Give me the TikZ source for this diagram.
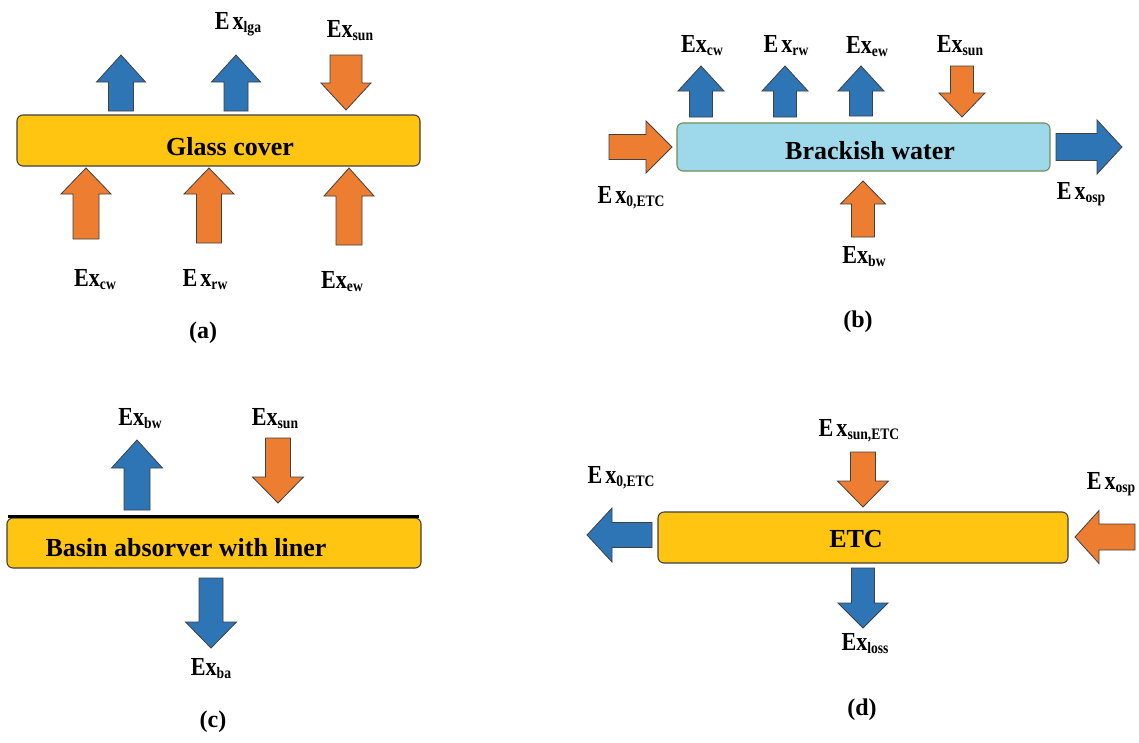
\documentclass[tikz,border=0pt]{standalone}
\usepackage{fontspec}
\setmainfont{Liberation Serif}
\newfontfamily\labfont{Liberation Serif}[FakeStretch=0.85]
\definecolor{myorange}{HTML}{ED7D31}
\definecolor{myblue}{HTML}{2E75B6}
\definecolor{mygold}{HTML}{FFC510}
\definecolor{mylblue}{HTML}{9DD9EA}
\definecolor{myedge}{HTML}{404040}
\definecolor{mygreen}{HTML}{6F8F55}
\newcommand\exl[2][]{{\labfont\bfseries\fontsize{26}{26}\selectfont E#1x\raisebox{-3pt}{\fontsize{16}{16}\selectfont #2}}}
% vertical block arrow: style, cx, tip, headbase, tail, headhalf, shafthalf
\newcommand\vblk[7]{\draw[#1] ({#2-#7},#5) -- ({#2-#7},#4) -- ({#2-#6},#4) -- (#2,#3) -- ({#2+#6},#4) -- ({#2+#7},#4) -- ({#2+#7},#5) -- cycle;}
% horizontal block arrow: style, cy, tip, headbase, tail, headhalf, shafthalf
\newcommand\hblk[7]{\draw[#1] (#5,{#2-#7}) -- (#4,{#2-#7}) -- (#4,{#2-#6}) -- (#3,#2) -- (#4,{#2+#6}) -- (#4,{#2+#7}) -- (#5,{#2+#7}) -- cycle;}
\begin{document}
\begin{tikzpicture}[x=1pt,y=-1pt,
  oarr/.style={fill=myorange, draw=myedge, line width=0.8pt, line join=miter},
  barr/.style={fill=myblue, draw=myedge, line width=0.8pt, line join=miter},
  boxbase/.style={draw=myedge, rounded corners=6pt, line width=1.1pt, inner sep=0pt},
  goldbox/.style={boxbase, fill=mygold},
  waterbox/.style={boxbase, fill=mylblue, draw=mygreen},
  boxtext/.style={anchor=base, inner sep=0pt, font=\bfseries\fontsize{26}{26}\selectfont},
  lab/.style={anchor=base, inner sep=0pt},
  captext/.style={inner sep=0pt, font=\bfseries\fontsize{24}{24}\selectfont}]
\useasboundingbox (0,0) rectangle (1139,742);
\fill[white] (0,0) rectangle (1139,742);

% ---------------- (a) ----------------
\node[goldbox, minimum width=403pt, minimum height=51pt] (gc) at (218.5,140.5) {};
\node[boxtext] (gct) at (230,155) {Glass cover};
\vblk{barr}{121}{55}{82}{111}{24.5}{12.5}
\vblk{barr}{236}{55}{82}{111}{24.5}{12}
\vblk{oarr}{346}{110}{83}{55}{25}{16}
\vblk{oarr}{86}{168}{194}{239}{25}{13}
\vblk{oarr}{209}{168}{194}{243}{25}{12.5}
\vblk{oarr}{349}{168}{196}{245}{25}{13}
\node[lab] (a1) at (238,29) {\exl[\kern3pt]{lga}};
\node[lab] (a2) at (350,37) {\exl{sun}};
\node[lab] (a3) at (95,286) {\exl{cw}};
\node[lab] (a4) at (205,286) {\exl[\kern3pt]{rw}};
\node[lab] (a5) at (342,288) {\exl{ew}};
\node[captext] (capa) at (203,333) {(a)};

% ---------------- (b) ----------------
\node[waterbox, minimum width=373pt, minimum height=48pt] (bw) at (863.5,147) {};
\node[boxtext] (bwt) at (870,159) {Brackish water};
\vblk{barr}{701}{66}{91}{117}{23}{11.5}
\vblk{barr}{785}{66}{91}{117}{23}{11.5}
\vblk{barr}{861}{66}{91}{116}{23}{11.5}
\vblk{oarr}{962}{117}{93}{66}{23}{11.5}
\vblk{oarr}{863}{181}{204}{237}{22.5}{11.5}
\hblk{oarr}{147}{672}{646}{609}{26}{12.5}
\hblk{barr}{147}{1122}{1097}{1056}{27}{13.5}
\node[lab] (b1) at (702,52) {\exl{cw}};
\node[lab] (b2) at (786,52) {\exl[\kern3pt]{rw}};
\node[lab] (b3) at (867,53) {\exl{ew}};
\node[lab] (b4) at (960,52) {\exl{sun}};
\node[lab] (b5) at (631,203) {\exl[\kern3pt]{0,ETC}};
\node[lab] (b6) at (864,263) {\exl{bw}};
\node[lab] (b7) at (1081,199) {\exl[\kern3pt]{osp}};
\node[captext] (capb) at (858,322) {(b)};

% ---------------- (c) ----------------
\node[goldbox, minimum width=414pt, minimum height=50pt] (ba) at (214,543) {};
\draw[line width=3pt] (8,516) -- (419,516);
\node[boxtext] (bat) at (186,556) {Basin absorver with liner};
\vblk{barr}{137}{440}{468}{510}{25.5}{13}
\vblk{oarr}{278}{503}{477}{438}{25.5}{12.5}
\vblk{barr}{211}{648}{622}{578}{25.5}{12}
\node[lab] (c1) at (140,425) {\exl{bw}};
\node[lab] (c2) at (275,425) {\exl{sun}};
\node[lab] (c3) at (211,675) {\exl{ba}};
\node[captext] (capc) at (213,722) {(c)};

% ---------------- (d) ----------------
\node[goldbox, minimum width=410pt, minimum height=51pt] (etc) at (863,537.5) {};
\node[boxtext] (etct) at (856,547) {ETC};
\vblk{oarr}{863}{507}{481}{452}{25.5}{12.5}
\vblk{barr}{863}{628}{603}{568}{25}{11.5}
\hblk{barr}{535}{587}{612}{652}{27}{12.5}
\hblk{oarr}{537}{1075}{1099}{1135}{26.5}{13}
\node[lab] (d1) at (859,436) {\exl[\kern3pt]{sun,ETC}};
\node[lab] (d2) at (621,483) {\exl[\kern3pt]{0,ETC}};
\node[lab] (d3) at (865,650) {\exl{loss}};
\node[lab] (d4) at (1111,489) {\exl[\kern3pt]{osp}};
\node[captext] (capd) at (862,710) {(d)};
\end{tikzpicture}
\end{document}
